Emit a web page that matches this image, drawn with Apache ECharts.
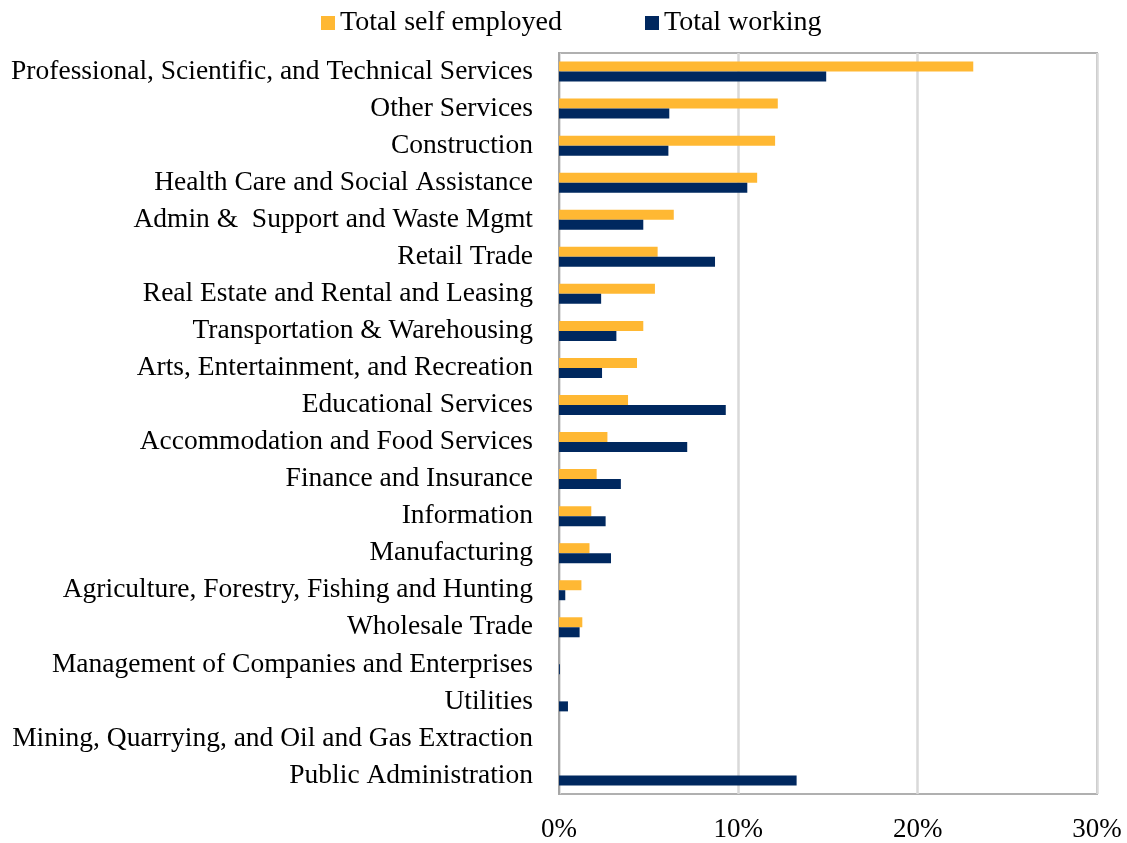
<!DOCTYPE html>
<html>
<head>
<meta charset="utf-8">
<script src="https://cdn.jsdelivr.net/npm/echarts@6/dist/echarts.min.js"></script>
<style>
  html, body { margin: 0; padding: 0; background: #fff; }
  #chart { width: 1127px; height: 843px; }
</style>
</head>
<body>
<div id="chart"></div>
<script>
// Industries, top to bottom
const industries = [
  'Professional, Scientific, and Technical Services',
  'Other Services',
  'Construction',
  'Health Care and Social Assistance',
  'Admin &  Support and Waste Mgmt',
  'Retail Trade',
  'Real Estate and Rental and Leasing',
  'Transportation & Warehousing',
  'Arts, Entertainment, and Recreation',
  'Educational Services',
  'Accommodation and Food Services',
  'Finance and Insurance',
  'Information',
  'Manufacturing',
  'Agriculture, Forestry, Fishing and Hunting',
  'Wholesale Trade',
  'Management of Companies and Enterprises',
  'Utilities',
  'Mining, Quarrying, and Oil and Gas Extraction',
  'Public Administration'
];

// Share of each group by industry (%)
const selfEmployed = [23.1, 12.2, 12.05, 11.05, 6.4, 5.5, 5.35, 4.7, 4.35, 3.85, 2.7, 2.1, 1.8, 1.7, 1.25, 1.3, 0, 0, 0, 0];
const totalWorking = [14.9, 6.15, 6.1, 10.5, 4.7, 8.7, 2.35, 3.2, 2.4, 9.3, 7.15, 3.45, 2.6, 2.9, 0.35, 1.15, 0.05, 0.5, 0, 13.25];

const xTicks = [0, 10, 20, 30];

const FONT = '"Liberation Serif", "DejaVu Serif", serif';

const chart = echarts.init(document.getElementById('chart'), null, { renderer: 'canvas' });

chart.setOption({
  animation: false,
  backgroundColor: '#ffffff',
  textStyle: { fontFamily: FONT },
  legend: {
    top: 4,
    left: 316,
    itemWidth: 14,
    itemHeight: 14,
    itemGap: 83,
    icon: 'rect',
    textStyle: { fontFamily: FONT, fontSize: 28, color: '#000' },
    data: ['Total self employed', 'Total working']
  },
  grid: {
    left: 559,
    right: 30,
    top: 53,
    bottom: 49,
    show: true,
    borderColor: '#b0b0b0',
    borderWidth: 2,
    containLabel: false
  },
  xAxis: {
    type: 'value',
    min: xTicks[0],
    max: xTicks[xTicks.length - 1],
    interval: 10,
    axisLine: { show: false },
    axisTick: { show: false },
    splitLine: { lineStyle: { color: '#d9d9d9', width: 2.5 } },
    axisLabel: {
      formatter: '{value}%',
      fontFamily: FONT,
      fontSize: 27,
      color: '#000',
      margin: 22
    }
  },
  yAxis: {
    type: 'category',
    inverse: true,
    data: industries,
    axisLine: { show: true, lineStyle: { color: '#a6a6a6', width: 2 } },
    axisTick: { show: false },
    axisLabel: {
      fontFamily: FONT,
      fontSize: 27.5,
      color: '#000',
      margin: 26
    }
  },
  series: [
    {
      name: 'Total self employed',
      type: 'bar',
      data: selfEmployed,
      barWidth: 10,
      barGap: '0%',
      itemStyle: { color: '#FFB833' }
    },
    {
      name: 'Total working',
      type: 'bar',
      data: totalWorking,
      barWidth: 10,
      barGap: '0%',
      itemStyle: { color: '#00285F' }
    }
  ]
});
</script>
</body>
</html>
